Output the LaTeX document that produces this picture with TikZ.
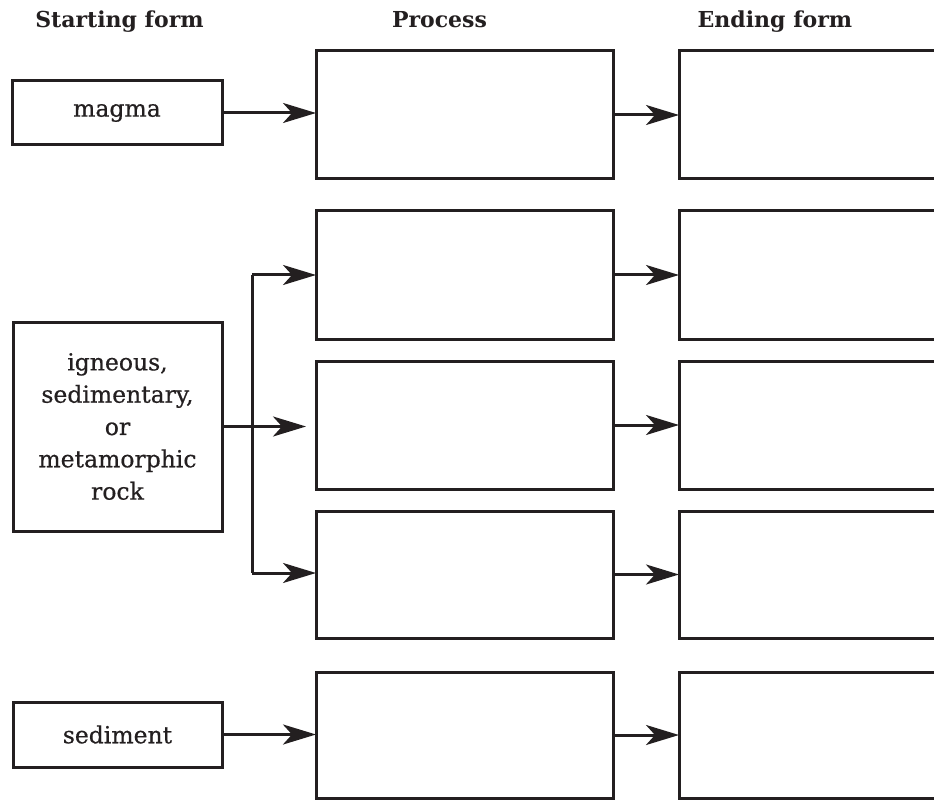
\documentclass[tikz,border=0pt]{standalone}
\usepackage{fontspec}
\setmainfont{DejaVu Serif}
\newfontfamily\bodyfont{DejaVu Serif}[FakeBold=0.6]
\usetikzlibrary{arrows.meta}
\definecolor{ink}{HTML}{231F20}
\begin{document}
\begin{tikzpicture}[x=1pt,y=-1pt,
  every node/.style={inner sep=0pt,outer sep=0pt},
  box/.style={draw=ink,line width=3pt,text=ink,align=center,font=\bodyfont\fontsize{23.5}{32.3}\selectfont},
  head/.style={text=ink,anchor=base,font=\bfseries\fontsize{22}{26}\selectfont},
  link/.style={draw=ink,line width=3pt,-{Stealth[length=33pt,width=20pt,inset=9pt]}},
  wire/.style={draw=ink,line width=3pt}]
\useasboundingbox (0,0) rectangle (934,802);
% column headings
\node[head] (hStart) at (119.5,28) {Starting form};
\node[head] (hProc) at (439.5,28) {Process};
\node[head] (hEnd) at (775,28) {Ending form};
% starting forms
\node[box,minimum width=210pt,minimum height=64pt] (magma) at (117,113) {magma};
\node[box,minimum width=209pt,minimum height=209pt] (rock) at (117.5,426.5)
  {igneous,\\sedimentary,\\or\\metamorphic\\rock};
\node[box,minimum width=209pt,minimum height=65pt] (sed) at (117.5,734.5) {sediment};
% process boxes
\foreach \n/\y/\h in {p1/115/128,p2/275/128,p3/425/128,p4/574.5/127,p5/735/126}
  \node[box,minimum width=297pt,minimum height=\h pt] (\n) at (464.5,\y) {};
% ending-form boxes, running past the right edge
\foreach \n/\y/\h in {e1/115/128,e2/275/128,e3/425/128,e4/574.5/127,e5/735/126}
  \node[box,minimum width=321pt,minimum height=\h pt] (\n) at (839.5,\y) {};
% connectors
\draw[link] (magma.east) -- (magma.east -| p1.west);
\draw[link] (sed.east) -- (sed.east -| p5.west);
\coordinate (ftop) at (252,275);
\coordinate (fbot) at (252,573);
\draw[link,shorten >=10pt] (rock.east) -- (rock.east -| p3.west);
\draw[wire] (ftop) -- (fbot);
\draw[link] (ftop) -- (ftop -| p2.west);
\draw[link] (fbot) -- (fbot -| p4.west);
\foreach \i in {1,...,5}
  \draw[link] (p\i.east) -- (e\i.west);
\end{tikzpicture}
\end{document}
